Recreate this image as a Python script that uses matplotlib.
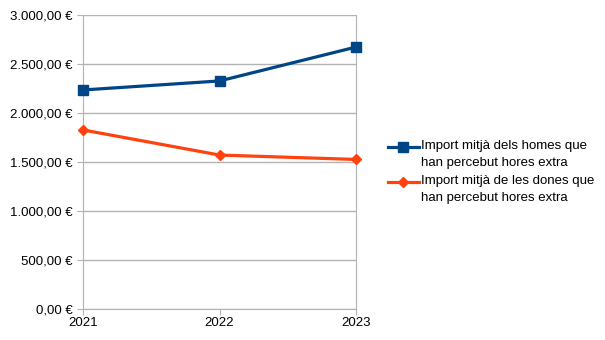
import matplotlib.pyplot as plt
from matplotlib.ticker import FuncFormatter
from matplotlib.legend_handler import HandlerLine2D

plt.rcParams['font.family'] = ['Liberation Sans', 'DejaVu Sans']

# Dades
anys = ["2021", "2022", "2023"]
homes = [2235, 2327, 2673]
dones = [1827, 1571, 1526]
etiqueta_homes = "Import mitjà dels homes que\nhan percebut hores extra"
etiqueta_dones = "Import mitjà de les dones que\nhan percebut hores extra"


def euros(v, pos):
    s = f"{v:,.2f}"
    s = s.replace(",", "X").replace(".", ",").replace("X", ".")
    return s + " €"


# la marca de la llegenda alineada amb la primera línia del text
class HandlerAmunt(HandlerLine2D):
    def create_artists(self, legend, orig_handle, xdescent, ydescent,
                       width, height, fontsize, trans):
        return super().create_artists(legend, orig_handle, xdescent,
                                      ydescent - 10, width, height,
                                      fontsize, trans)


fig = plt.figure(figsize=(6.05, 3.4), dpi=100)
ax = fig.add_axes([83 / 605, 31 / 340, 273 / 605, 294 / 340])

x = range(len(anys))
l1, = ax.plot(x, homes, color="#004586", lw=2.3, marker="s", ms=7.5,
              label=etiqueta_homes, zorder=3, clip_on=False)
l2, = ax.plot(x, dones, color="#ff420e", lw=2.3, marker="D", ms=5.5,
              label=etiqueta_dones, zorder=3, clip_on=False)

ax.set_xlim(0, 2)
ax.set_ylim(0, 3000)
ax.set_yticks(range(0, 3001, 500))
ax.yaxis.set_major_formatter(FuncFormatter(euros))
ax.set_xticks(list(x))
ax.set_xticklabels(anys)
ax.grid(axis="y", color="#b3b3b3", lw=1)
ax.set_axisbelow(True)

for s in ["left", "right", "bottom"]:
    ax.spines[s].set_color("#b3b3b3")
ax.spines["top"].set_visible(False)
ax.tick_params(colors="#b3b3b3", labelcolor="black", labelsize=9.5, length=4)
ax.tick_params(axis="x", pad=2)

leg = fig.legend(loc="center left", bbox_to_anchor=(383 / 605, 1 - 172 / 340),
                 frameon=False, fontsize=9.5, handlelength=2.3,
                 handletextpad=0.2, labelspacing=0.45, borderaxespad=0,
                 handler_map={l1: HandlerAmunt(), l2: HandlerAmunt()})
for t in leg.get_texts():
    t.set_linespacing(1.55)

fig.savefig("out.png")
